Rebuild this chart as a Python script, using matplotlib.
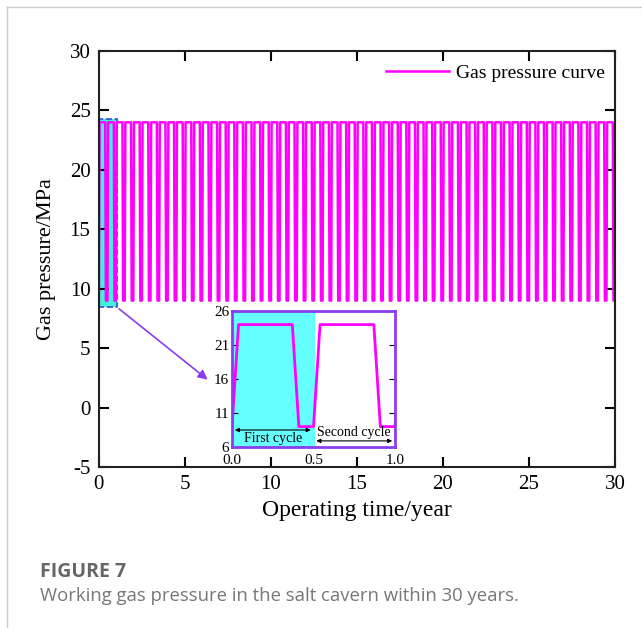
import matplotlib.pyplot as plt
import numpy as np
from matplotlib.patches import Rectangle

plt.rcParams['font.family'] = ['Liberation Serif', 'DejaVu Serif']
plt.rcParams['axes.unicode_minus'] = False

# one storage cycle (half a year)
cycle_t = [0.0, 0.04, 0.37, 0.41, 0.5]
cycle_p = [9.0, 24.0, 24.0, 9.0, 9.0]
period = 0.5
n_cycles = 60

x_ticks = [0, 5, 10, 15, 20, 25, 30]
y_ticks = [-5, 0, 5, 10, 15, 20, 25, 30]
inset_x_ticks = [0.0, 0.5, 1.0]
inset_y_ticks = [6, 11, 16, 21, 26]

magenta = '#ff00ff'
purple = '#8a3cf0'

t = []
p = []
for k in range(n_cycles):
    for ti, pi in zip(cycle_t, cycle_p):
        if k > 0 and ti == 0.0:
            continue
        t.append(k * period + ti)
        p.append(pi)
t = np.array(t)
p = np.array(p)

fig = plt.figure(figsize=(6.42, 6.28), dpi=100)

# thin frame lines of the page
fig.add_artist(plt.Line2D([7 / 642, 7 / 642], [0, 1 - 7 / 628], color='#cccccc', lw=1))
fig.add_artist(plt.Line2D([7 / 642, 1], [1 - 7 / 628, 1 - 7 / 628], color='#cccccc', lw=1))

ax = fig.add_axes([0.154, 0.2564, 0.804, 0.6624])
ax.add_patch(Rectangle((-0.05, 8.5), 1.1, 15.8, facecolor='#45eedd', edgecolor='#3050d0',
                       linestyle='--', lw=1.2, zorder=1))
ax.plot(t, p, color=magenta, lw=1.8, label='Gas pressure curve', zorder=2)
ax.set_xlim(0, 30)
ax.set_ylim(-5, 30)
ax.set_xticks(x_ticks)
ax.set_yticks(y_ticks)
ax.tick_params(direction='in', length=7, width=1.5, labelsize=15, top=True, right=True, pad=6)
for s in ax.spines.values():
    s.set_linewidth(1.5)
    s.set_color('#222222')
ax.set_xlabel('Operating time/year', fontsize=17, labelpad=4)
ax.set_ylabel('Gas pressure/MPa', fontsize=16, labelpad=10)
ax.legend(loc='upper right', frameon=False, fontsize=14, handlelength=3.2, handletextpad=0.4,
          bbox_to_anchor=(1.015, 1.01))

ax.annotate('', xy=(6.45, 2.2), xytext=(1.05, 8.45),
            arrowprops=dict(arrowstyle='-|>', color=purple, lw=1.2, mutation_scale=14))

# inset with the first two cycles
ins = fig.add_axes([0.3614, 0.2882, 0.2539, 0.2166])
ins.axvspan(0, 0.5, color='#66ffff', zorder=0)
ins.plot(t, p, color=magenta, lw=2, zorder=2)
ins.set_xlim(0, 1)
ins.set_ylim(6, 26)
ins.set_xticks(inset_x_ticks)
ins.set_yticks(inset_y_ticks)
ins.set_xticklabels(['0.0', '0.5', '1.0'])
ins.tick_params(axis='y', direction='in', length=4, labelsize=11, right=True, pad=2)
ins.tick_params(axis='x', length=0, labelsize=11, pad=5)
for s in ins.spines.values():
    s.set_linewidth(2)
    s.set_color(purple)
ins.annotate('', xy=(0, 8.5), xytext=(0.5, 8.5),
             arrowprops=dict(arrowstyle='<|-|>', color='black', lw=0.8, mutation_scale=6))
ins.text(0.25, 7.3, 'First cycle', ha='center', va='center', fontsize=10)
ins.annotate('', xy=(0.5, 6.9), xytext=(1.0, 6.9),
             arrowprops=dict(arrowstyle='<|-|>', color='black', lw=0.8, mutation_scale=6))
ins.text(0.75, 8.2, 'Second cycle', ha='center', va='center', fontsize=10)

fig.text(40 / 642, 1 - 572 / 628, 'FIGURE 7', fontsize=14, color='#666666',
         family='Open Sans', weight='bold', va='center')
fig.text(40 / 642, 1 - 596 / 628, 'Working gas pressure in the salt cavern within 30 years.',
         fontsize=13.3, color='#777777', family='Open Sans', va='center')

fig.savefig('out.png', dpi=100)
